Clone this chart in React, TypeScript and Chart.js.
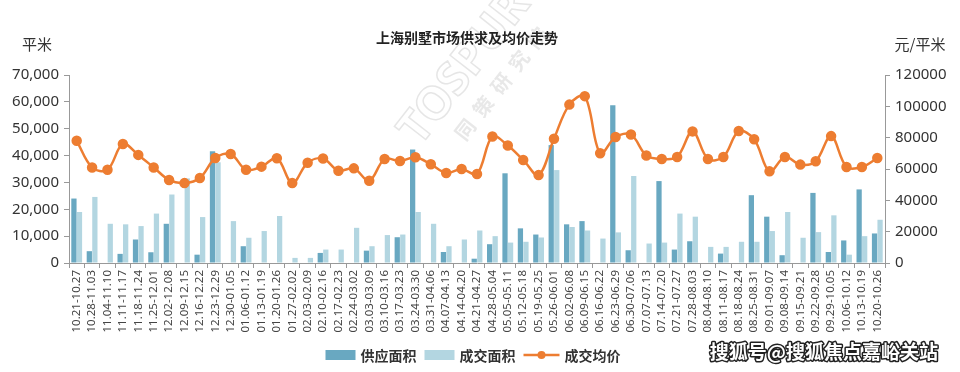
import { useEffect, useRef } from 'react';
import { Chart, registerables } from 'chart.js';

Chart.register(...registerables);

const categories = [
  '10.21-10.27', '10.28-11.03', '11.04-11.10', '11.11-11.17', '11.18-11.24', '11.25-12.01',
  '12.02-12.08', '12.09-12.15', '12.16-12.22', '12.23-12.29', '12.30-01.05', '01.06-01.12',
  '01.13-01.19', '01.20-01.26', '01.27-02.02', '02.03-02.09', '02.10-02.16', '02.17-02.23',
  '02.24-03.02', '03.03-03.09', '03.10-03.16', '03.17-03.23', '03.24-03.30', '03.31-04.06',
  '04.07-04.13', '04.14-04.20', '04.21-04.27', '04.28-05.04', '05.05-05.11', '05.12-05.18',
  '05.19-05.25', '05.26-06.01', '06.02-06.08', '06.09-06.15', '06.16-06.22', '06.23-06.29',
  '06.30-07.06', '07.07-07.13', '07.14-07.20', '07.21-07.27', '07.28-08.03', '08.04-08.10',
  '08.11-08.17', '08.18-08.24', '08.25-08.31', '09.01-09.07', '09.08-09.14', '09.15-09.21',
  '09.22-09.28', '09.29-10.05', '10.06-10.12', '10.13-10.19', '10.20-10.26',
];

const supplyArea = [
  24000, 4400, 0, 3400, 8750, 4000, 14600, 0, 3100, 41600, 0, 6250,
  0, 0, 0, 0, 3750, 0, 0, 4600, 0, 9600, 42250, 0,
  4100, 0, 1600, 7000, 33400, 12900, 10600, 43900, 14400, 15600, 0, 58750,
  4750, 0, 30500, 5000, 8100, 0, 3500, 0, 25250, 17250, 2900, 0,
  26100, 4100, 8400, 27400, 11000,
];

const dealArea = [
  19000, 24600, 14600, 14400, 13750, 18400, 25500, 31500, 17100, 37500, 15600, 9400,
  11900, 17500, 1900, 1900, 5000, 5000, 13100, 6250, 10400, 10600, 19000, 14600,
  6250, 8750, 12100, 10000, 7600, 7900, 9500, 34600, 13400, 12100, 9100, 11400,
  32400, 7250, 7600, 18400, 17250, 6000, 6000, 7900, 7900, 11900, 19000, 9400,
  11500, 17750, 3100, 10000, 16100,
];

const avgPrice = [
  78000, 61000, 59500, 76000, 69000, 61000, 53000, 51000, 54200, 67000, 69600, 59500,
  61500, 66900, 51000, 64000, 66700, 58900, 60400, 52500, 66400, 65100, 67500, 63000,
  57400, 60000, 56800, 80800, 75000, 65800, 56100, 79300, 101100, 106500, 70000, 80400,
  82000, 68600, 66400, 67700, 84000, 66400, 67700, 84200, 79000, 58500, 67700, 62800,
  64900, 81000, 61300, 61300, 67000,
];

const seriesNames = ['供应面积', '成交面积', '成交均价'];
const chartTitle = '上海别墅市场供求及均价走势';
const leftUnit = '平米';
const rightUnit = '元/平米';
const watermarkText = '搜狐号@搜狐焦点嘉峪关站';

const leftMax = 70000;
const leftStep = 10000;
const rightMax = 120000;
const rightStep = 20000;

const SUPPLY_COLOR = '#69a8c1';
const DEAL_COLOR = '#b3d6e1';
const PRICE_COLOR = '#ed7d31';
const CJK = '"Noto Sans CJK SC", "Noto Sans", sans-serif';
const LATIN = '"Noto Sans", "Open Sans", sans-serif';

const decorPlugin = {
  id: 'decor',
  beforeDraw(chart: any) {
    const ctx = chart.ctx;
    // faint background watermark
    ctx.save();
    ctx.translate(chart.width / 2 - 15, 68);
    ctx.rotate(-52 * Math.PI / 180);
    ctx.strokeStyle = 'rgba(205,205,205,0.5)';
    ctx.lineWidth = 1.5;
    ctx.font = `bold 46px ${LATIN}`;
    ctx.textAlign = 'center';
    ctx.textBaseline = 'middle';
    ctx.strokeText('TOSPUR', 0, 0);
    ctx.font = `bold 20px ${CJK}`;
    ctx.fillStyle = 'rgba(205,205,205,0.45)';
    ctx.fillText('同  策  研  究  院', 10, 38);
    ctx.restore();
  },
  afterDraw(chart: any) {
    const ctx = chart.ctx;
    const area = chart.chartArea;
    const yL = chart.scales.y;
    const yR = chart.scales.y1;
    const cx = chart.width / 2 - 13;
    ctx.save();
    // title
    ctx.fillStyle = '#222';
    ctx.font = `bold 14px ${CJK}`;
    ctx.textAlign = 'center';
    ctx.textBaseline = 'middle';
    ctx.fillText(chartTitle, cx, 38);
    // unit labels
    ctx.font = `15px ${CJK}`;
    ctx.fillStyle = '#333';
    ctx.fillText(leftUnit, yL.left + 37, area.top - 31);
    ctx.fillText(rightUnit, yR.left + 35, area.top - 31);

    // legend
    const ly = chart.height - 17;
    ctx.font = `bold 14px ${CJK}`;
    const colors = [SUPPLY_COLOR, DEAL_COLOR, PRICE_COLOR];
    const symW = [30, 30, 36];
    const gap = 5;
    const itemGap = 8;
    const widths = seriesNames.map((n, i) => symW[i] + gap + ctx.measureText(n).width);
    const total = widths.reduce((a, b) => a + b, 0) + itemGap * (widths.length - 1);
    let x = cx - total / 2 + 6;
    seriesNames.forEach((name, i) => {
      if (i < 2) {
        ctx.fillStyle = colors[i];
        ctx.fillRect(x, ly - 5, symW[i], 10);
      } else {
        ctx.strokeStyle = colors[i];
        ctx.lineWidth = 2.5;
        ctx.beginPath();
        ctx.moveTo(x, ly);
        ctx.lineTo(x + symW[i], ly);
        ctx.stroke();
        ctx.fillStyle = colors[i];
        ctx.beginPath();
        ctx.arc(x + symW[i] / 2, ly, 4, 0, Math.PI * 2);
        ctx.fill();
      }
      ctx.fillStyle = '#333';
      ctx.textAlign = 'left';
      ctx.fillText(name, x + symW[i] + gap, ly + 1);
      x += widths[i] + itemGap;
    });

    // bottom-right watermark
    ctx.font = `bold 19px ${CJK}`;
    ctx.textAlign = 'right';
    ctx.lineJoin = 'round';
    ctx.strokeStyle = '#222';
    ctx.lineWidth = 3;
    ctx.strokeText(watermarkText, chart.width - 22, chart.height - 20);
    ctx.fillStyle = '#fff';
    ctx.fillText(watermarkText, chart.width - 22, chart.height - 20);
    ctx.restore();
  },
};

export default function App() {
  const canvasRef = useRef<HTMLCanvasElement | null>(null);

  useEffect(() => {
    document.body.style.margin = '0';
    const canvas = canvasRef.current;
    if (!canvas) return;
    const chart = new Chart(canvas, {
      type: 'bar',
      data: {
        labels: categories,
        datasets: [
          {
            type: 'line',
            label: seriesNames[2],
            data: avgPrice,
            yAxisID: 'y1',
            borderColor: PRICE_COLOR,
            backgroundColor: PRICE_COLOR,
            borderWidth: 2.5,
            pointRadius: 4,
            pointHoverRadius: 4,
            pointBackgroundColor: PRICE_COLOR,
            pointBorderColor: PRICE_COLOR,
            tension: 0.35,
            order: 0,
          } as any,
          {
            type: 'bar',
            label: seriesNames[0],
            data: supplyArea,
            yAxisID: 'y',
            backgroundColor: SUPPLY_COLOR,
            categoryPercentage: 0.72,
            barPercentage: 0.95,
            order: 1,
          },
          {
            type: 'bar',
            label: seriesNames[1],
            data: dealArea,
            yAxisID: 'y',
            backgroundColor: DEAL_COLOR,
            categoryPercentage: 0.72,
            barPercentage: 0.95,
            order: 1,
          },
        ],
      },
      options: {
        responsive: true,
        maintainAspectRatio: false,
        animation: false,
        layout: { padding: { top: 75, bottom: 30, left: 0, right: 0 } },
        plugins: {
          legend: { display: false },
          title: { display: false },
          tooltip: { enabled: false },
        },
        scales: {
          x: {
            offset: true,
            grid: { offset: true, drawOnChartArea: false, drawTicks: true, tickLength: 5, color: '#999' },
            border: { display: true, color: '#999' },
            ticks: {
              autoSkip: false,
              minRotation: 90,
              maxRotation: 90,
              color: '#444',
              font: { family: LATIN, size: 11.5 },
              padding: 2,
            },
            afterFit: (s: any) => { s.height = 79; },
          },
          y: {
            position: 'left',
            min: 0,
            max: leftMax,
            grid: { drawOnChartArea: false, drawTicks: true, tickLength: 5, color: '#999' },
            border: { display: true, color: '#999' },
            ticks: {
              stepSize: leftStep,
              color: '#333',
              font: { family: LATIN, size: 15 },
              padding: 5,
              callback: (v: any) => Number(v).toLocaleString('en-US'),
            },
            afterFit: (s: any) => { s.width = 69; },
          },
          y1: {
            position: 'right',
            min: 0,
            max: rightMax,
            grid: { drawOnChartArea: false, drawTicks: true, tickLength: 5, color: '#999' },
            border: { display: true, color: '#999' },
            ticks: {
              stepSize: rightStep,
              color: '#333',
              font: { family: LATIN, size: 15 },
              padding: 5,
              callback: (v: any) => String(v),
            },
            afterFit: (s: any) => { s.width = 75; },
          },
        },
      },
      plugins: [decorPlugin],
    });
    return () => chart.destroy();
  }, []);

  return (
    <div style={{ position: 'absolute', left: 0, top: 0, width: 960, height: 372 }}>
      <canvas ref={canvasRef} />
    </div>
  );
}
